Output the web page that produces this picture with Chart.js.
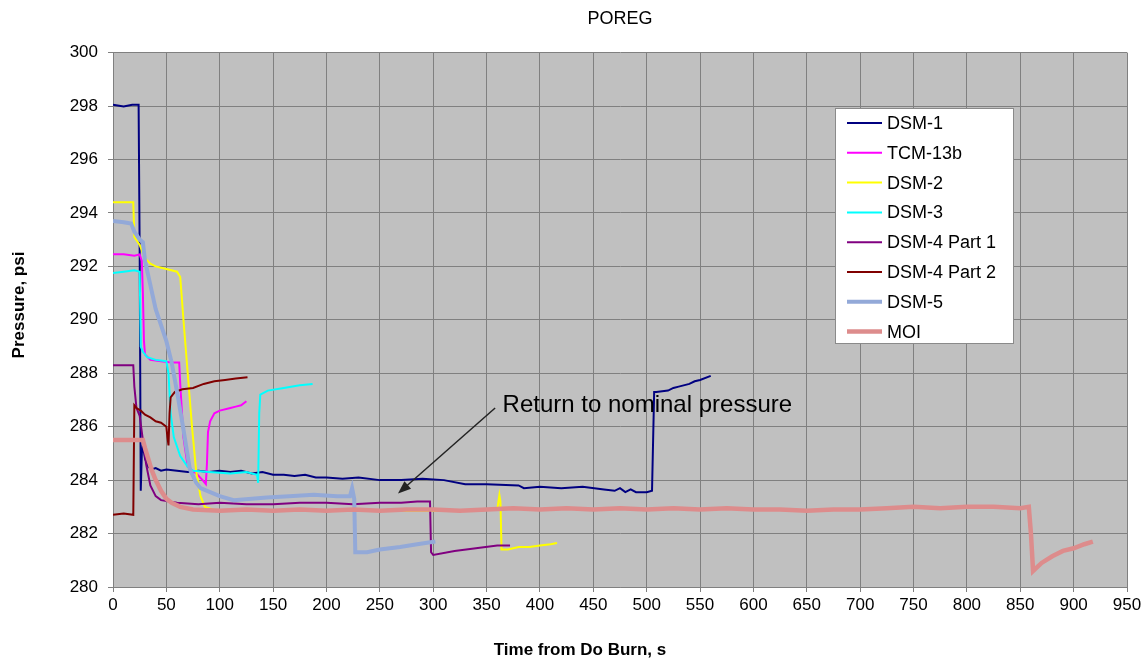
<!DOCTYPE html>
<html>
<head>
<meta charset="utf-8">
<title>POREG</title>
<script src="https://cdn.jsdelivr.net/npm/chart.js@4.4.1/dist/chart.umd.min.js"></script>
<style>
  body { margin: 0; background: #ffffff; }
  #wrap { width: 1145px; height: 660px; }
</style>
</head>
<body>
<div id="wrap"><canvas id="poregChart" width="1145" height="660"></canvas></div>
<script>
// Series data: [time s, pressure psi]
const seriesNames = ['DSM-1', 'TCM-13b', 'DSM-2', 'DSM-3', 'DSM-4 Part 1', 'DSM-4 Part 2', 'DSM-5', 'MOI'];

const dsm1 = [[0,298.05],[10,297.98],[18,298.05],[24,298.05],[25,292.5],[26,283.6],[27,285.0],[28,285.3],[30,284.8],[33,284.5],
  [36,284.4],[40,284.45],[45,284.35],[50,284.4],[60,284.35],[70,284.3],[80,284.35],[90,284.3],[100,284.35],[110,284.3],
  [120,284.35],[130,284.25],[140,284.3],[150,284.2],[160,284.2],[170,284.15],[180,284.2],[190,284.1],[200,284.1],[215,284.05],
  [230,284.1],[250,284.0],[270,284.0],[290,284.05],[310,284.0],[330,283.85],[350,283.85],[380,283.8],[385,283.7],[400,283.75],
  [420,283.7],[440,283.75],[460,283.65],[470,283.6],[475,283.7],[480,283.55],[485,283.65],[490,283.55],[500,283.55],[505,283.6],
  [507,287.3],[509,287.3],[520,287.35],[525,287.45],[530,287.5],[540,287.6],[545,287.7],[550,287.75],[560,287.9]];

const tcm13b = [[0,292.45],[10,292.45],[20,292.4],[25,292.45],[27,292.2],[28,291.0],[29,289.2],[30,288.7],[35,288.5],[45,288.45],
  [55,288.4],[62,288.4],[63,287.6],[66,285.6],[70,284.5],[78,284.25],[84,284.0],[87,283.85],[88,284.6],[89,285.8],
  [91,286.2],[95,286.5],[100,286.6],[110,286.7],[115,286.75],[120,286.8],[125,286.95]];

const dsm2 = [[0,294.4],[19,294.4],[20,293.1],[25,292.8],[30,292.3],[35,292.1],[40,292.0],[50,291.9],[60,291.8],[63,291.6],
  [66,290.0],[70,288.0],[74,286.0],[78,284.3],[82,283.4],[86,283.0],[95,282.88],[120,282.85],[150,282.88],[180,282.85],
  [210,282.85],[240,282.88],[270,282.85],[300,282.85],[330,282.88],[355,282.88],[360,282.9],[362,283.45],[363,283.2],[364,281.4],
  [370,281.4],[380,281.5],[390,281.5],[400,281.55],[410,281.6],[416,281.65]];

const dsm3 = [[0,291.75],[10,291.8],[20,291.85],[25,291.8],[26,289.0],[28,288.8],[32,288.6],[40,288.5],[50,288.45],[52,288.0],
  [54,286.5],[57,285.6],[63,284.9],[70,284.5],[75,284.35],[90,284.3],[110,284.25],[125,284.3],[135,284.2],[136,283.9],
  [137,286.5],[138,287.2],[145,287.35],[160,287.45],[175,287.55],[187,287.6]];

const dsm4p1 = [[0,288.3],[19,288.3],[20,287.5],[22,286.7],[25,286.4],[28,285.5],[31,284.6],[35,283.8],[40,283.4],[45,283.25],
  [60,283.15],[80,283.1],[100,283.15],[125,283.1],[150,283.1],[175,283.15],[200,283.15],[225,283.1],[250,283.15],[270,283.15],
  [285,283.2],[297,283.2],[298,281.3],[300,281.2],[320,281.35],[340,281.45],[360,281.55],[372,281.55]];

const dsm4p2 = [[0,282.7],[10,282.75],[19,282.7],[20,286.8],[22,286.7],[26,286.6],[30,286.45],[35,286.35],[40,286.2],[45,286.15],
  [50,286.0],[51,285.6],[52,285.3],[53,286.5],[54,287.1],[58,287.3],[65,287.4],[75,287.45],[85,287.6],[95,287.7],
  [105,287.75],[115,287.8],[126,287.85]];

const dsm5 = [[0,293.7],[10,293.65],[17,293.6],[20,293.3],[25,293.0],[28,292.9],[30,292.2],[40,290.4],[50,289.2],[55,288.4],
  [60,287.3],[66,285.9],[72,284.4],[78,283.9],[82,283.7],[91,283.55],[100,283.4],[113,283.25],[130,283.3],[144,283.35],
  [165,283.4],[188,283.45],[210,283.4],[222,283.4],[224,283.7],[226,283.3],[227,281.3],[238,281.3],[250,281.4],[269,281.5],
  [285,281.6],[302,281.7]];

const moi = [[0,285.5],[28,285.5],[30,285.2],[33,284.8],[36,284.4],[40,284.0],[45,283.6],[50,283.3],[55,283.15],[63,283.0],
  [75,282.9],[100,282.85],[125,282.9],[150,282.85],[175,282.9],[200,282.85],[225,282.9],[250,282.85],[275,282.9],[300,282.9],
  [325,282.85],[350,282.9],[375,282.95],[400,282.9],[425,282.95],[450,282.9],[475,282.95],[500,282.9],[525,282.95],[550,282.9],
  [575,282.95],[600,282.9],[625,282.9],[650,282.85],[675,282.9],[700,282.9],[725,282.95],[750,283.0],[775,282.95],[800,283.0],
  [825,283.0],[850,282.95],[858,283.0],[860,282.0],[862,280.6],[870,280.9],[880,281.15],[890,281.35],[900,281.45],[910,281.6],
  [918,281.7]];

const seriesData = [dsm1, tcm13b, dsm2, dsm3, dsm4p1, dsm4p2, dsm5, moi];
const seriesColors = ['#000080', '#ff00ff', '#ffff00', '#00ffff', '#800080', '#800000', '#93a9d8', '#dd8c8c'];
const seriesWidths = [2, 2, 2, 2, 2, 2, 4, 4.5];

// Annotation: text anchor and arrow (tail -> head) in data units
const noteText = 'Return to nominal pressure';
const noteAt = [365, 286.55];
const arrowFrom = [358, 286.7];
const arrowTo = [267, 283.5];

const FONT = "'Liberation Sans', Arial, sans-serif";

// grey plot area like the original
const plotBackground = {
  id: 'plotBackground',
  beforeDraw(chart) {
    const { ctx, chartArea: a } = chart;
    ctx.save();
    ctx.fillStyle = '#c0c0c0';
    ctx.fillRect(a.left, a.top, a.right - a.left, a.bottom - a.top);
    ctx.restore();
  }
};

// arrow + label
const noteArrow = {
  id: 'noteArrow',
  afterDatasetsDraw(chart) {
    const { ctx, scales: { x, y } } = chart;
    const x1 = x.getPixelForValue(arrowFrom[0]), y1 = y.getPixelForValue(arrowFrom[1]);
    const x2 = x.getPixelForValue(arrowTo[0]), y2 = y.getPixelForValue(arrowTo[1]);
    const ang = Math.atan2(y2 - y1, x2 - x1);
    ctx.save();
    ctx.strokeStyle = '#222';
    ctx.fillStyle = '#222';
    ctx.lineWidth = 1.5;
    ctx.beginPath();
    ctx.moveTo(x1, y1);
    ctx.lineTo(x2 - 8 * Math.cos(ang), y2 - 8 * Math.sin(ang));
    ctx.stroke();
    ctx.beginPath();
    ctx.moveTo(x2, y2);
    ctx.lineTo(x2 - 13 * Math.cos(ang) + 5 * Math.sin(ang), y2 - 13 * Math.sin(ang) - 5 * Math.cos(ang));
    ctx.lineTo(x2 - 13 * Math.cos(ang) - 5 * Math.sin(ang), y2 - 13 * Math.sin(ang) + 5 * Math.cos(ang));
    ctx.closePath();
    ctx.fill();
    ctx.fillStyle = '#000';
    ctx.font = '24px ' + FONT;
    ctx.textBaseline = 'alphabetic';
    ctx.textAlign = 'left';
    ctx.fillText(noteText, x.getPixelForValue(noteAt[0]), y.getPixelForValue(noteAt[1]));
    ctx.restore();
  }
};

// boxed legend inside the plot + axis titles
const boxLegend = {
  id: 'boxLegend',
  afterDraw(chart) {
    const { ctx } = chart;
    ctx.save();
    ctx.fillStyle = '#ffffff';
    ctx.fillRect(835, 108, 178, 235);
    ctx.strokeStyle = '#8a8a8a';
    ctx.lineWidth = 1;
    ctx.strokeRect(835.5, 108.5, 178, 235);
    ctx.font = '18px ' + FONT;
    ctx.textBaseline = 'middle';
    ctx.textAlign = 'left';
    chart.data.datasets.forEach((ds, i) => {
      const yy = 123 + i * 29.8;
      ctx.strokeStyle = ds.borderColor;
      ctx.lineWidth = ds.borderWidth;
      ctx.beginPath();
      ctx.moveTo(847, yy);
      ctx.lineTo(882, yy);
      ctx.stroke();
      ctx.fillStyle = '#000';
      ctx.fillText(ds.label, 887, yy + 1);
    });

    ctx.font = 'bold 17px ' + FONT;
    ctx.textAlign = 'center';
    ctx.fillText('Time from Do Burn, s', 580, 650);
    ctx.translate(19, 305);
    ctx.rotate(-Math.PI / 2);
    ctx.fillText('Pressure, psi', 0, 0);
    ctx.restore();
  }
};

const datasets = seriesNames.map((name, i) => ({
  label: name,
  data: seriesData[i].map(p => ({ x: p[0], y: p[1] })),
  borderColor: seriesColors[i],
  backgroundColor: seriesColors[i],
  borderWidth: seriesWidths[i],
  pointRadius: 0,
  tension: 0,
  fill: false,
  order: seriesNames.length - i
}));

new Chart(document.getElementById('poregChart'), {
  type: 'line',
  data: { datasets },
  options: {
    responsive: false,
    animation: false,
    layout: { padding: { top: 0, right: 18, bottom: 0, left: 0 } },
    plugins: {
      legend: { display: false },
      tooltip: { enabled: false },
      title: {
        display: true,
        fullSize: false,
        text: 'POREG',
        color: '#000',
        font: { family: FONT, size: 18, weight: 'normal' },
        padding: { top: 8, bottom: 23 }
      }
    },
    scales: {
      x: {
        type: 'linear',
        min: 0,
        max: 950,
        afterFit: s => { s.height = 73; },
        ticks: { stepSize: 50, color: '#000', padding: 3, maxRotation: 0, font: { family: FONT, size: 17 } },
        grid: { color: '#808080', lineWidth: 1, tickLength: 5 },
        border: { color: '#808080' }
      },
      y: {
        min: 280,
        max: 300,
        afterFit: s => { s.width = 113; },
        ticks: { stepSize: 2, color: '#000', padding: 10, font: { family: FONT, size: 17 } },
        grid: { color: '#808080', lineWidth: 1, tickLength: 5 },
        border: { color: '#808080' }
      }
    }
  },
  plugins: [plotBackground, noteArrow, boxLegend]
});
</script>
</body>
</html>
